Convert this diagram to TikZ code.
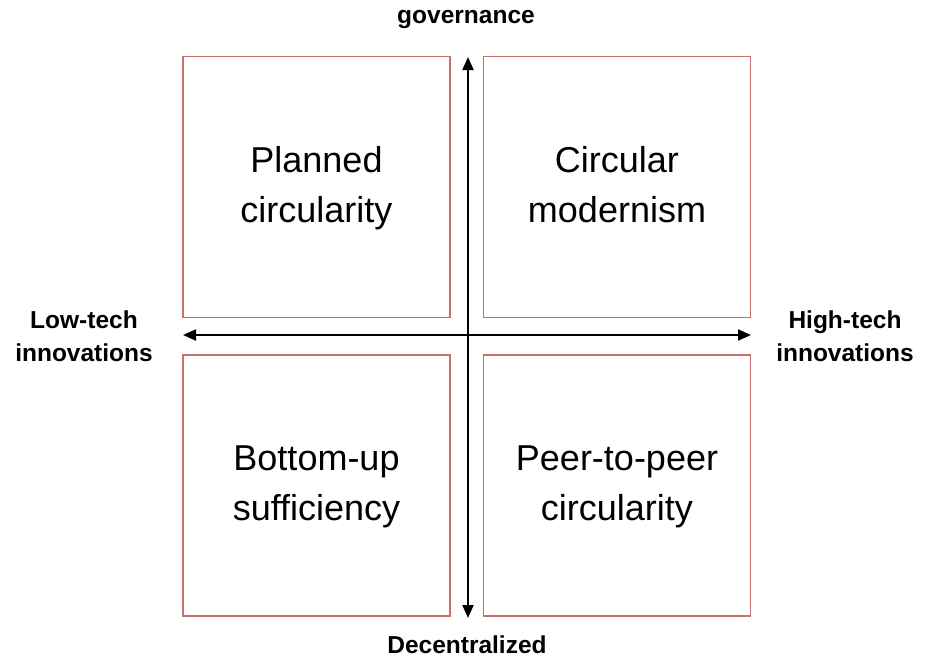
\documentclass[tikz,border=0pt]{standalone}
\usepackage{fontspec}
\setmainfont{Liberation Sans}
\usetikzlibrary{arrows.meta}

\definecolor{boxred}{RGB}{200,112,112}
\tikzstyle{quad}=[draw=boxred,line width=1.3pt,minimum width=267pt,minimum height=261pt,inner sep=0pt,align=center,font=\fontsize{36}{50}\selectfont]
\tikzstyle{axis} = [draw,line width=2pt,{Triangle[length=13pt,width=11pt]}-{Triangle[length=13pt,width=11pt]}]
\tikzstyle{pole} = [font=\bfseries\fontsize{24.5}{33}\selectfont,align=center]
\newcommand{\qdscale}{1pt}

\begin{document}
\begin{tikzpicture}[x=\qdscale, y=-\qdscale]
    \useasboundingbox (0,0) rectangle (927,662);
    % First we draw the four quadrants
    \foreach \pos/\name/\txt in {{(316.5,187)/pc/Planned\strut\\circularity\strut}, {(617,187)/cm/Circular\strut\\modernism\strut},
        {(316.5,485.5)/bs/Bottom-up\strut\\sufficiency\strut}, {(617,485.5)/pp/Peer-to-peer\strut\\circularity\strut}}
        \node[quad] (\name) at \pos {\txt};
    % Axis ends
    \coordinate (top) at (468,57);
    \coordinate (bottom) at (468,618);
    \coordinate (left) at (183,335);
    \coordinate (right) at (751,335);
    \path[axis] (bottom) -- (top);
    \path[axis] (left) -- (right);
    % Axis labels
    \node[pole] (gov) at (466,19) {governance};
    \node[pole] (dec) at (467,645) {Decentralized};
    \node[pole] (low) at (84,336) {Low-tech\\innovations};
    \node[pole] (high) at (845,336) {High-tech\\innovations};
\end{tikzpicture}
\end{document}
